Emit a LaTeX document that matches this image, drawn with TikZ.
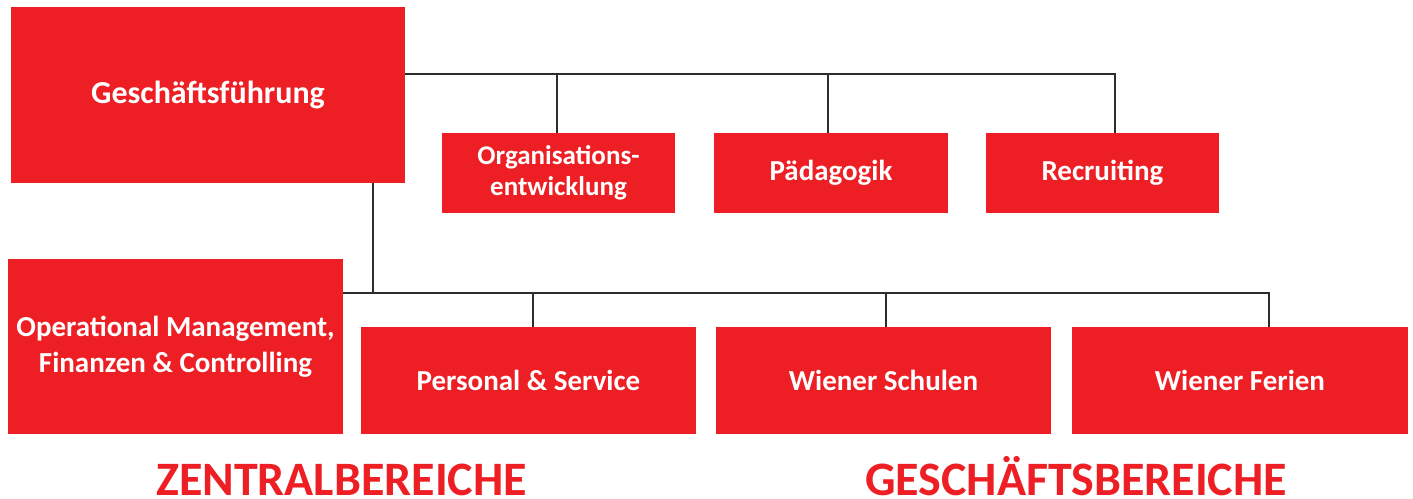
\documentclass[tikz,border=0pt]{standalone}
\usepackage{fontspec}
\setmainfont{Carlito}
\definecolor{boxred}{RGB}{237,31,36}
\definecolor{linegray}{RGB}{45,45,45}
\begin{document}
\begin{tikzpicture}[x=1pt,y=-1pt,
  unit/.style={fill=boxred,text=white,font=\bfseries,inner sep=0pt,align=center},
  link/.style={draw=linegray,line width=2.6pt},
  area/.style={text=boxred,font=\fontsize{48}{50}\selectfont\bfseries,anchor=base,inner sep=0pt}]
\useasboundingbox (0,0) rectangle (1413,498);

% top level
\node[unit,minimum width=394pt,minimum height=176pt,font=\fontsize{32}{36}\selectfont\bfseries] (gf) at (208,95) {Geschäftsführung};

% staff units
\node[unit,minimum width=233pt,minimum height=80pt,font=\fontsize{27}{31}\selectfont\bfseries] (org) at (558.5,173) {Organisations-\\entwicklung};
\node[unit,minimum width=234pt,minimum height=80pt,font=\fontsize{29}{33}\selectfont\bfseries] (paed) at (831,173) {Pädagogik};
\node[unit,minimum width=233pt,minimum height=80pt,font=\fontsize{29}{33}\selectfont\bfseries] (rec) at (1102.5,173) {Recruiting};

% central and business units
\node[unit,minimum width=335pt,minimum height=175pt,font=\fontsize{29}{36}\selectfont\bfseries] (om) at (175.5,346.5) {Operational Management,\\Finanzen \& Controlling};
\node[unit,minimum width=335pt,minimum height=107pt,font=\fontsize{29}{33}\selectfont\bfseries] (ps) at (528.5,380.5) {Personal \& Service};
\node[unit,minimum width=335pt,minimum height=107pt,font=\fontsize{29}{33}\selectfont\bfseries] (ws) at (883.5,380.5) {Wiener Schulen};
\node[unit,minimum width=336pt,minimum height=107pt,font=\fontsize{29}{33}\selectfont\bfseries] (wf) at (1240,380.5) {Wiener Ferien};

% branch points
\coordinate (t1) at (557,74);
\coordinate (t2) at (828,74);
\coordinate (t3) at (1115,74);
\coordinate (g0) at (373,293);
\coordinate (b1) at (533,293);
\coordinate (b2) at (886,293);
\coordinate (b3) at (1269,293);

% upper connectors
\draw[link] (gf.east |- t1) -- (t3) -- (t3 |- rec.north);
\draw[link] (t1) -- (t1 |- org.north);
\draw[link] (t2) -- (t2 |- paed.north);

% lower connectors
\draw[link] (gf.south -| g0) -- (g0);
\draw[link] (om.east |- g0) -- (b3) -- (b3 |- wf.north);
\draw[link] (b1) -- (b1 |- ps.north);
\draw[link] (b2) -- (b2 |- ws.north);

% area labels
\node[area] (zb) at (341.5,495) {ZENTRALBEREICHE};
\node[area] (gb) at (1076,495) {GESCHÄFTSBEREICHE};
\end{tikzpicture}
\end{document}
